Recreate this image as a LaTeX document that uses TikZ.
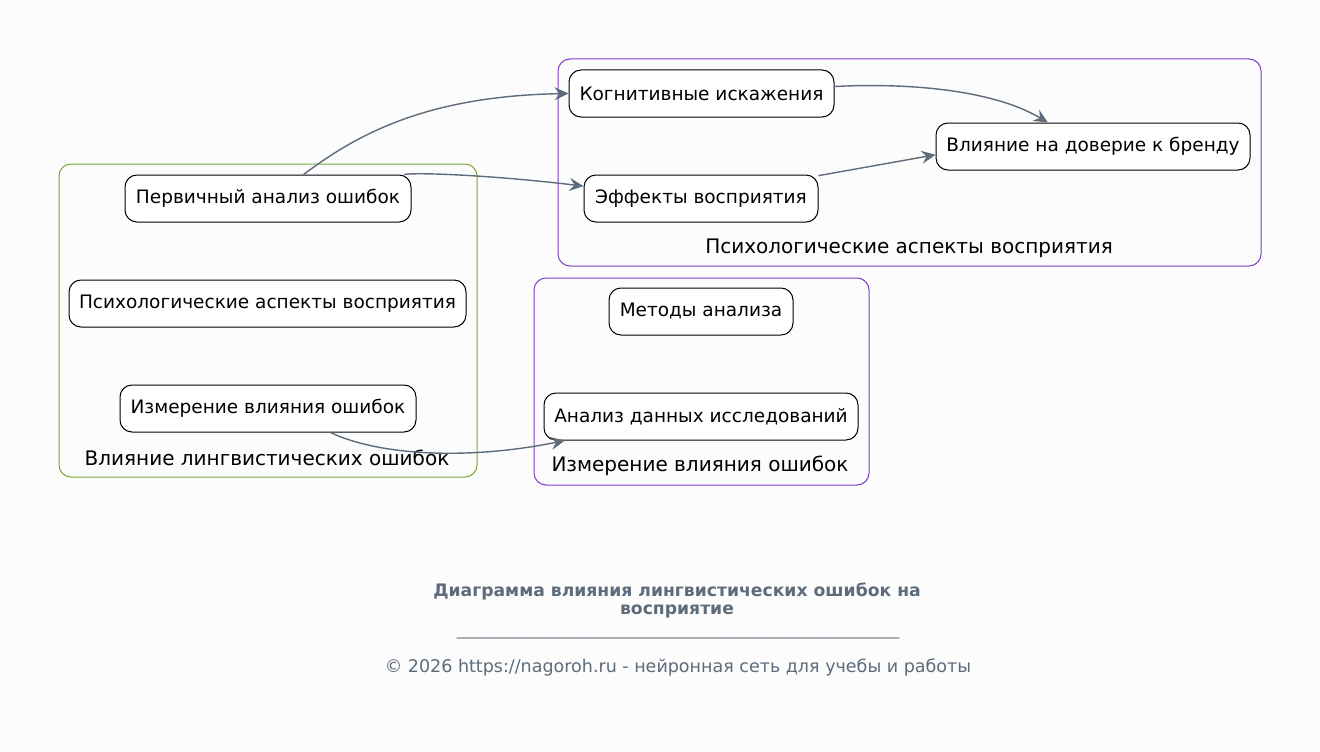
\documentclass[tikz,border=0pt]{standalone}
\usepackage{fontspec}
\setmainfont{DejaVu Sans}
\usetikzlibrary{arrows.meta}
\definecolor{edgec}{HTML}{5D6B7A}
\definecolor{grn}{HTML}{7CA83A}
\definecolor{prp}{HTML}{7B3FC4}
\definecolor{bgc}{HTML}{FCFCFC}
\tikzset{
  box/.style={draw=black, line width=1pt, rounded corners=12pt, fill=white,
    minimum height=47pt, inner xsep=2pt, inner ysep=0pt, font=\fontsize{18.5}{22}\selectfont},
  cluster/.style={line width=1pt, rounded corners=12pt},
  clabel/.style={font=\fontsize{20}{24}\selectfont, inner sep=0pt},
  conn/.style={draw=edgec, line width=1.4pt, -{Stealth[length=14pt,width=13pt,inset=5pt]}},
}
\begin{document}
\begin{tikzpicture}[x=1pt,y=-1pt]
\fill[bgc] (0,0) rectangle (1320,752);
\useasboundingbox (0,0) rectangle (1320,752);

% clusters
\draw[cluster, draw=grn] (59,164) rectangle (477,477);
\node[clabel] (c1) at (267,458) {Влияние лингвистических ошибок};
\draw[cluster, draw=prp] (558,59) rectangle (1261,266);
\node[clabel] (c2) at (909,248) {Психологические аспекты восприятия};
\draw[cluster, draw=prp] (534,278) rectangle (869,485);
\node[clabel] (c3) at (700,466) {Измерение влияния ошибок};

% nodes
\node[box, minimum width=286pt] (p) at (268,198.5) {Первичный анализ ошибок};
\node[box, minimum width=397pt] (ps) at (267.5,303.5) {Психологические аспекты восприятия};
\node[box, minimum width=296pt] (i) at (268,408.5) {Измерение влияния ошибок};
\node[box, minimum width=265pt] (k) at (701.5,93.5) {Когнитивные искажения};
\node[box, minimum width=234pt] (e) at (701,198.5) {Эффекты восприятия};
\node[box, minimum width=314pt] (v) at (1093,146.5) {Влияние на доверие к бренду};
\node[box, minimum width=184pt] (m) at (701,311.5) {Методы анализа};
\node[box, minimum width=314pt] (a) at (701,416.5) {Анализ данных исследований};

% connectors
\draw[conn] (p.34) .. controls (360,132) and (430,96) .. (k.west);
\draw[conn] (p.10) .. controls (420,172) and (500,176) .. (e.174);
\draw[conn] (k.3) .. controls (900,83) and (990,88) .. (v.152);
\draw[conn] (e.11) -- (v.183);
\draw[conn] (i.-21) .. controls (380,456) and (470,460) .. (a.190);

% title and footer
\node[font=\bfseries\fontsize{17.2}{18}\selectfont, text=edgec, align=center, inner sep=0pt] (t) at (677,600.5)
  {Диаграмма влияния лингвистических ошибок на\\восприятие};
\node[font=\fontsize{15}{18}\selectfont, text=edgec, inner sep=0pt] (u) at (678,637)
  {\textunderscore\textunderscore\textunderscore\textunderscore\textunderscore\textunderscore\textunderscore\textunderscore\textunderscore\textunderscore\textunderscore\textunderscore\textunderscore\textunderscore\textunderscore\textunderscore\textunderscore\textunderscore\textunderscore\textunderscore\textunderscore\textunderscore\textunderscore\textunderscore\textunderscore\textunderscore\textunderscore\textunderscore\textunderscore\textunderscore\textunderscore\textunderscore\textunderscore\textunderscore\textunderscore\textunderscore\textunderscore\textunderscore\textunderscore\textunderscore\textunderscore\textunderscore\textunderscore\textunderscore\textunderscore\textunderscore\textunderscore\textunderscore\textunderscore\textunderscore\textunderscore\textunderscore\textunderscore\textunderscore\textunderscore\textunderscore\textunderscore\textunderscore\textunderscore};
\node[font=\fontsize{17.5}{21}\selectfont, text=edgec, inner sep=0pt] (f) at (678,667.5)
  {© 2026 https://nagoroh.ru - нейронная сеть для учебы и работы};
\end{tikzpicture}
\end{document}
